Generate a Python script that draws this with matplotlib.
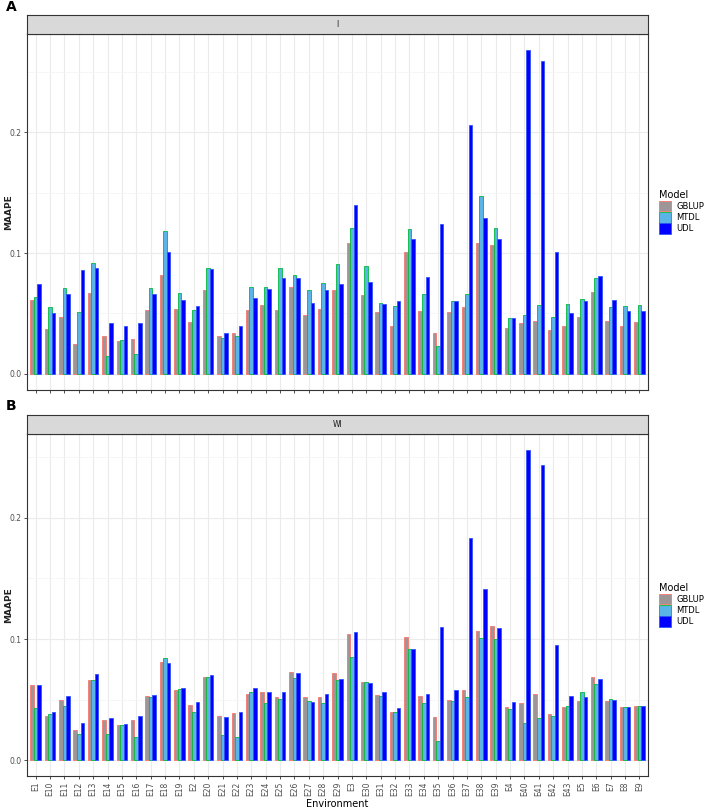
import numpy as np
import matplotlib.pyplot as plt

envs = ['E1', 'E10', 'E11', 'E12', 'E13', 'E14', 'E15', 'E16', 'E17', 'E18', 'E19',
        'E2', 'E20', 'E21', 'E22', 'E23', 'E24', 'E25', 'E26', 'E27', 'E28', 'E29',
        'E3', 'E30', 'E31', 'E32', 'E33', 'E34', 'E35', 'E36', 'E37', 'E38', 'E39',
        'E4', 'E40', 'E41', 'E42', 'E43', 'E5', 'E6', 'E7', 'E8', 'E9']
models = ['GBLUP', 'MTDL', 'UDL']

# panel A (I)
gblup_i = [0.061, 0.037, 0.047, 0.025, 0.067, 0.031, 0.027, 0.029, 0.053, 0.082, 0.054,
           0.043, 0.069, 0.031, 0.034, 0.053, 0.057, 0.053, 0.072, 0.049, 0.054, 0.069,
           0.108, 0.065, 0.051, 0.040, 0.101, 0.052, 0.034, 0.051, 0.055, 0.108, 0.107,
           0.038, 0.042, 0.044, 0.036, 0.040, 0.047, 0.068, 0.044, 0.040, 0.043]
mtdl_i = [0.064, 0.055, 0.071, 0.051, 0.092, 0.015, 0.028, 0.016, 0.071, 0.118, 0.067,
          0.053, 0.088, 0.030, 0.031, 0.072, 0.072, 0.088, 0.082, 0.069, 0.075, 0.091,
          0.121, 0.089, 0.059, 0.056, 0.120, 0.066, 0.023, 0.060, 0.066, 0.147, 0.121,
          0.046, 0.049, 0.057, 0.047, 0.058, 0.062, 0.079, 0.055, 0.056, 0.057]
udl_i = [0.074, 0.050, 0.066, 0.086, 0.088, 0.042, 0.040, 0.042, 0.066, 0.101, 0.061,
         0.056, 0.087, 0.034, 0.040, 0.063, 0.070, 0.079, 0.079, 0.059, 0.069, 0.074,
         0.140, 0.076, 0.058, 0.060, 0.112, 0.080, 0.124, 0.060, 0.206, 0.129, 0.112,
         0.046, 0.268, 0.259, 0.101, 0.050, 0.060, 0.081, 0.061, 0.052, 0.052]

# panel B (WI)
gblup_wi = [0.062, 0.037, 0.050, 0.025, 0.066, 0.033, 0.029, 0.033, 0.053, 0.081, 0.058,
            0.046, 0.069, 0.037, 0.039, 0.055, 0.056, 0.052, 0.073, 0.052, 0.052, 0.072,
            0.104, 0.065, 0.054, 0.040, 0.102, 0.053, 0.036, 0.050, 0.058, 0.107, 0.111,
            0.044, 0.047, 0.055, 0.038, 0.044, 0.049, 0.069, 0.049, 0.044, 0.045]
mtdl_wi = [0.043, 0.038, 0.045, 0.022, 0.066, 0.022, 0.029, 0.019, 0.052, 0.084, 0.059,
           0.040, 0.069, 0.021, 0.019, 0.056, 0.047, 0.051, 0.068, 0.049, 0.047, 0.066,
           0.085, 0.065, 0.053, 0.040, 0.092, 0.047, 0.016, 0.049, 0.052, 0.101, 0.100,
           0.042, 0.031, 0.035, 0.037, 0.045, 0.056, 0.063, 0.051, 0.044, 0.045]
udl_wi = [0.062, 0.040, 0.053, 0.031, 0.071, 0.035, 0.030, 0.037, 0.054, 0.080, 0.060,
          0.048, 0.070, 0.036, 0.040, 0.060, 0.056, 0.056, 0.072, 0.048, 0.055, 0.067,
          0.106, 0.064, 0.056, 0.043, 0.092, 0.055, 0.110, 0.058, 0.183, 0.141, 0.109,
          0.048, 0.256, 0.243, 0.095, 0.053, 0.052, 0.067, 0.050, 0.044, 0.045]

fills = ['#9E9696', '#5AB4E6', '#0000FF']
edges = ['#F8766D', '#00BA38', '#3355FF']
txt_gray = '#4D4D4D'


def draw_panel(ax_rect, strip_label, series, letter, letter_y, show_labels):
    ax = fig.add_axes(ax_rect)
    x = np.arange(len(envs))
    w = 0.245
    for k, vals in enumerate(series):
        ax.bar(x + (k - 1) * w, vals, width=w, color=fills[k], edgecolor=edges[k],
               linewidth=0.6, label=models[k], zorder=3)
    top = max(max(s) for s in series)
    pad = 0.05 * top
    ax.set_ylim(-pad, top + pad)
    ax.set_xlim(-0.6, len(envs) - 0.4)
    ax.set_yticks([0.0, 0.1, 0.2])
    ax.set_yticklabels(['0.0', '0.1', '0.2'])
    ax.set_yticks([0.05, 0.15, 0.25], minor=True)
    ax.set_xticks(x)
    if show_labels:
        ax.set_xticklabels(envs, rotation=90)
        ax.set_xlabel('Environment', fontsize=7, labelpad=2)
    else:
        ax.set_xticklabels([])
    ax.tick_params(axis='both', labelsize=5.5, colors='#333333', labelcolor=txt_gray,
                   length=2.5, width=0.6, pad=1.5)
    ax.tick_params(axis='y', which='minor', length=0)
    ax.grid(True, which='major', color='#EBEBEB', linewidth=0.8, zorder=0)
    ax.grid(True, which='minor', axis='y', color='#F3F3F3', linewidth=0.5, zorder=0)
    ax.set_axisbelow(True)
    for sp in ax.spines.values():
        sp.set_color('#333333')
        sp.set_linewidth(0.8)
    ax.set_ylabel('MAAPE', fontsize=6.5, fontweight='bold', color='#222222')
    ax.yaxis.set_label_coords(-0.022, 0.5)
    leg = ax.legend(loc='center left', bbox_to_anchor=(1.012, 0.5), frameon=False,
                    title='Model', fontsize=6, title_fontsize=7, handlelength=1.5,
                    handleheight=1.6, labelspacing=0.05, handletextpad=0.6,
                    borderaxespad=0)
    leg._legend_box.align = 'left'
    # facet strip
    l, b, wd, h = ax_rect
    sax = fig.add_axes([l, b + h, wd, 19 / 809])
    sax.set_facecolor('#D9D9D9')
    sax.set_xticks([])
    sax.set_yticks([])
    for sp in sax.spines.values():
        sp.set_color('#333333')
        sp.set_linewidth(0.8)
    sax.text(0.5, 0.5, strip_label, ha='center', va='center', fontsize=5.5,
             color='#1A1A1A', transform=sax.transAxes)
    fig.text(0.008, letter_y, letter, fontsize=10, fontweight='bold', va='center')
    return ax


fig = plt.figure(figsize=(7.08, 8.09), dpi=100)
left = 27 / 708
width = (648 - 27) / 708
draw_panel([left, 1 - 390 / 809, width, (390 - 34) / 809], 'I',
           [gblup_i, mtdl_i, udl_i], 'A', 1 - 7 / 809, False)
draw_panel([left, 1 - 776 / 809, width, (776 - 434) / 809], 'WI',
           [gblup_wi, mtdl_wi, udl_wi], 'B', 1 - 406 / 809, True)

fig.savefig('out.png', dpi=100, facecolor='white')
